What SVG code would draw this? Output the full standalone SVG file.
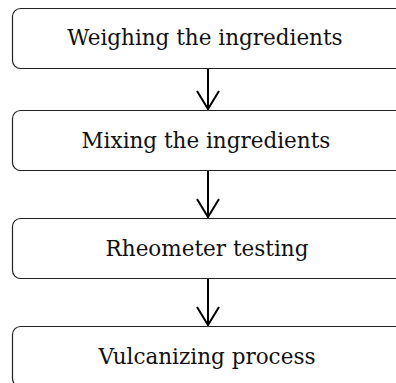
<svg xmlns="http://www.w3.org/2000/svg" width="396" height="383" viewBox="0 0 396 383">
<defs>
<style>
.box{fill:#fff;stroke:#222;stroke-width:1.2}
.lbl{font-family:"DejaVu Serif","Liberation Serif",serif;font-size:21.5px;fill:#111;text-anchor:middle}
.edge{stroke:#000;stroke-width:2;fill:none;marker-end:url(#vhead)}
</style>
<marker id="vhead" markerUnits="userSpaceOnUse" markerWidth="24" markerHeight="26" refX="20" refY="12" orient="auto" viewBox="0 0 24 24" overflow="visible">
<polyline points="2,1 20,12 2,23" fill="none" stroke="#000" stroke-width="2"/>
</marker>
</defs>
<rect width="396" height="383" fill="#fff"/>
<g id="connectors">
<path class="edge" d="M208,68.5 V109"/>
<path class="edge" d="M208,170.5 V217"/>
<path class="edge" d="M208,278.5 V325"/>
</g>
<g id="n1"><rect class="box" x="12.5" y="8.5" width="400" height="60" rx="8"/><text class="lbl" x="205" y="45">Weighing the ingredients</text></g>
<g id="n2"><rect class="box" x="12.5" y="110.5" width="400" height="60" rx="8"/><text class="lbl" x="206" y="148">Mixing the ingredients</text></g>
<g id="n3"><rect class="box" x="12.5" y="218.5" width="400" height="60" rx="8"/><text class="lbl" x="207" y="256">Rheometer testing</text></g>
<g id="n4"><rect class="box" x="12.5" y="326.5" width="400" height="60" rx="8"/><text class="lbl" x="207" y="364">Vulcanizing process</text></g>
</svg>
